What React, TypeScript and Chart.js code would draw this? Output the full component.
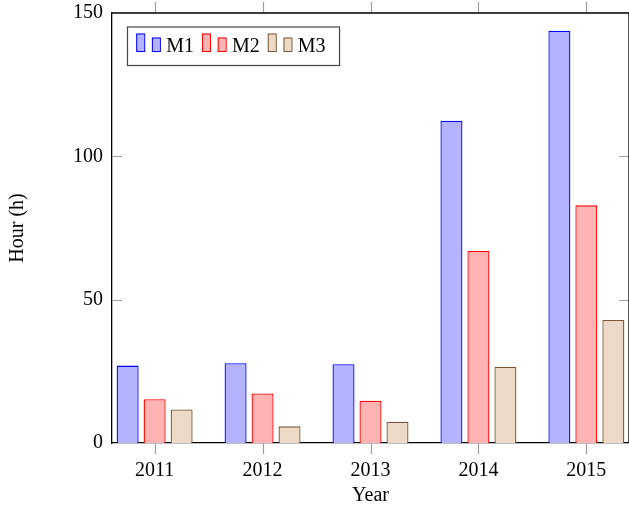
import React, { useEffect, useRef } from "react";
import { Chart, registerables } from "chart.js";

Chart.register(...registerables);

const years = [2011, 2012, 2013, 2014, 2015];
const m1 = [27, 27.8, 27.5, 112.4, 143.8];
const m2 = [15.3, 17.3, 14.7, 67, 82.9];
const m3 = [11.7, 5.8, 7.4, 26.6, 42.9];
const seriesNames = ["M1", "M2", "M3"];
const yTicks = [0, 50, 100, 150];

const FONT = "'Liberation Serif', 'Times New Roman', serif";
const fills = ["#b3b3ff", "#ffb3b3", "#ecd9c6"];
const borders = ["#0000ff", "#ff0000", "#7a5634"];

const frameAndTicks = {
  id: "frameAndTicks",
  afterDraw(chart: any) {
    const { ctx, chartArea: a, scales } = chart;
    const x = scales.x;
    const y = scales.y;
    ctx.save();
    ctx.strokeStyle = "#a0a0a0";
    ctx.lineWidth = 1.2;
    ctx.beginPath();
    for (const v of yTicks) {
      if (v === 0 || v === 150) continue;
      const py = Math.round(y.getPixelForValue(v)) + 0.5;
      ctx.moveTo(a.left, py);
      ctx.lineTo(a.left + 10, py);
      ctx.moveTo(a.right, py);
      ctx.lineTo(a.right - 10, py);
    }
    for (const v of years) {
      const px = Math.round(x.getPixelForValue(v)) + 0.5;
      ctx.moveTo(px, a.bottom);
      ctx.lineTo(px, a.bottom + 11);
      ctx.moveTo(px, a.top);
      ctx.lineTo(px, a.top - 11);
    }
    ctx.stroke();
    ctx.strokeStyle = "#000";
    ctx.lineWidth = 1.3;
    ctx.beginPath();
    ctx.moveTo(a.left, a.top);
    ctx.lineTo(a.right, a.top);
    ctx.moveTo(a.right, a.top);
    ctx.lineTo(a.right, a.bottom);
    ctx.stroke();

    // legend
    const bx = a.left + 15.5;
    const by = a.top + 14;
    ctx.font = `20px ${FONT}`;
    let cx = bx + 8.7;
    const base = by + 24.5;
    const items: any[] = [];
    chart.data.datasets.forEach((ds: any, i: number) => {
      const tw = ctx.measureText(ds.label).width;
      items.push({ x: cx, tw, i, label: ds.label });
      cx += 30 + tw + 8;
    });
    const bw = cx - 8 + 14 - bx;
    ctx.fillStyle = "#fff";
    ctx.fillRect(bx, by, bw, 38.5);
    ctx.strokeStyle = "#444";
    ctx.lineWidth = 1.2;
    ctx.strokeRect(bx, by, bw, 38.5);
    for (const it of items) {
      const ds = chart.data.datasets[it.i];
      ctx.fillStyle = ds.backgroundColor;
      ctx.strokeStyle = ds.borderColor;
      ctx.lineWidth = 1;
      ctx.fillRect(it.x, base - 18, 8, 18);
      ctx.strokeRect(it.x + 0.5, base - 18 + 0.5, 8, 17.5);
      ctx.fillRect(it.x + 15.7, base - 14, 8, 14);
      ctx.strokeRect(it.x + 15.7 + 0.5, base - 14 + 0.5, 8, 13.5);
      ctx.fillStyle = "#000";
      ctx.textBaseline = "alphabetic";
      ctx.textAlign = "left";
      ctx.fillText(it.label, it.x + 30, base + 0.5);
    }
    ctx.restore();
  },
};

export default function App() {
  const ref = useRef<HTMLCanvasElement | null>(null);
  useEffect(() => {
    if (!ref.current) return;
    const mk = (vals: number[]) => years.map((yr, i) => ({ x: yr, y: vals[i] }));
    const chart = new Chart(ref.current, {
      type: "bar",
      data: {
        datasets: [m1, m2, m3].map((vals, i) => ({
          label: seriesNames[i],
          data: mk(vals),
          backgroundColor: fills[i],
          borderColor: borders[i],
          borderWidth: 1.3,
          categoryPercentage: 0.75,
          barPercentage: 0.815,
        })),
      },
      options: {
        responsive: false,
        animation: false,
        devicePixelRatio: 1,
        layout: { padding: { top: 13, right: 0, left: 0, bottom: 0 } },
        plugins: { legend: { display: false }, tooltip: { enabled: false } },
        scales: {
          x: {
            type: "linear",
            offset: false,
            min: 2010.605,
            max: 2015.395,
            afterBuildTicks: (s: any) => {
              s.ticks = years.map((v) => ({ value: v }));
            },
            afterFit: (s: any) => {
              s.height = 65;
              s.paddingLeft = 0;
              s.paddingRight = 0;
            },
            grid: { display: false, drawTicks: false, offset: false },
            border: { display: true, color: "#000", width: 1.3 },
            ticks: {
              color: "#000",
              font: { family: FONT, size: 20 },
              padding: 16,
              maxRotation: 0,
              autoSkip: false,
              callback: (v: any) => String(v),
            },
            title: {
              display: true,
              text: "Year",
              color: "#000",
              font: { family: FONT, size: 20 },
              padding: { top: 0, bottom: 0 },
            },
          },
          y: {
            min: 0,
            max: 150,
            afterBuildTicks: (s: any) => {
              s.ticks = yTicks.map((v) => ({ value: v }));
            },
            afterFit: (s: any) => {
              s.width = 112;
              s.paddingTop = 0;
              s.paddingBottom = 0;
            },
            grid: { display: false, drawTicks: false },
            border: { display: true, color: "#000", width: 1.3 },
            ticks: {
              color: "#000",
              font: { family: FONT, size: 20 },
              padding: 9,
              callback: (v: any) => String(v),
            },
            title: {
              display: true,
              text: "Hour (h)",
              color: "#000",
              font: { family: FONT, size: 20 },
              padding: { top: 6, bottom: 0 },
            },
          },
        },
      },
      plugins: [frameAndTicks],
    } as any);
    return () => chart.destroy();
  }, []);
  return (
    <div style={{ position: "absolute", left: 0, top: 0, width: 629, height: 508, overflow: "hidden", background: "#fff" }}>
      <canvas ref={ref} width={629} height={508} style={{ display: "block", width: 629, height: 508 }} />
    </div>
  );
}
